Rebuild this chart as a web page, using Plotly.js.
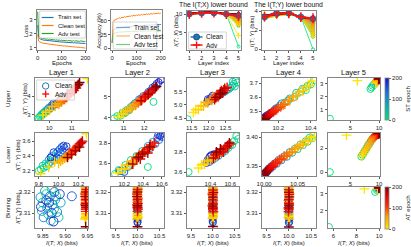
<!DOCTYPE html>
<html><head><meta charset="utf-8">
<script src="https://cdn.plot.ly/plotly-3.0.1.min.js"></script>
<style>html,body{margin:0;padding:0;background:#fff;}#chart{width:411px;height:247px;}</style>
</head><body><div id="chart"></div>
<script>
// ---------------- DATA ----------------
const epochs = [0,8,16,24,32,40,48,56,64,72,80,88,96,104,112,120,128,136,144,152,160,168,176,184,192,200];
const lossEpochs = [0,1,2,4,7,10,14,18,22,26,30,35,40,45,50,55,60,65,70,75,80,85,90,95,100,105,110,115,120,125,130,135,140,145,150,155,160,165,170,175,180,185,190,195,200];
const lossTrain = [2.60,1.95,1.80,1.72,1.66,1.62,1.59,1.57,1.55,1.54,1.53,1.51,1.50,1.50,1.48,1.47,1.47,1.45,1.45,1.44,1.43,1.43,1.42,1.41,1.41,1.40,1.40,1.39,1.38,1.38,1.37,1.37,1.36,1.36,1.35,1.35,1.34,1.34,1.33,1.33,1.32,1.32,1.31,1.31,1.30];
const lossClean = [1.95,1.62,1.52,1.47,1.43,1.39,1.36,1.35,1.32,1.31,1.29,1.28,1.26,1.27,1.24,1.23,1.24,1.21,1.20,1.21,1.18,1.17,1.18,1.15,1.15,1.14,1.12,1.13,1.11,1.10,1.11,1.08,1.08,1.07,1.08,1.05,1.05,1.04,1.05,1.02,1.02,1.01,1.02,0.99,0.98];
const lossAdv = [3.55,2.40,1.95,1.82,1.76,1.72,1.70,1.66,1.68,1.63,1.65,1.60,1.63,1.58,1.61,1.56,1.59,1.55,1.58,1.53,1.56,1.52,1.55,1.51,1.54,1.50,1.53,1.49,1.52,1.48,1.51,1.48,1.50,1.47,1.50,1.46,1.49,1.46,1.48,1.45,1.48,1.45,1.47,1.44,1.46];
const accTrain = [10,25,30,32,33.5,34.5,35.5,36,36.5,37,37.3,37.6,37.9,38.2,38.5,38.8,39,39.2,39.4,39.6,39.8,40,40.2,40.4,40.5,40.7,40.8,41,41.1,41.3,41.4,41.5,41.7,41.8,41.9,42,42.1,42.2,42.3,42.4,42.5,42.6,42.7,42.8,42.9];
const accClean = [10,38,45,48,50,51,52,53,53.5,54,55,54,56,55,57,56,57.5,57,58,57.5,59,58,59.5,58.5,60,59,60.5,59.5,61,60,61.5,60.5,62,61,62,61.5,62.5,61.5,63,62,63,62.5,63.5,62.5,63.5];
const accAdv = [10,20,24,26,27,27.5,28,28.5,28.8,29,29.3,29,29.6,29.4,29.9,29.7,30.1,30,30.3,30.1,30.5,30.3,30.7,30.5,30.8,30.6,31,30.8,31.1,30.9,31.2,31,31.3,31.1,31.4,31.2,31.5,31.3,31.5,31.4,31.6,31.4,31.7,31.5,31.7];

const layerIdx = [1,2,3,4,5];
const itxClean = [10.0,10.25,10.3,10.02,9.6];
const itxAdv = [9.95,10.3,10.35,9.95,9.45];
const ityClean = [3.4,3.78,3.8,3.4,3.22];
const ityAdv = [3.42,3.75,3.78,3.38,3.28];

// Upper row
const up1_cx=[9.52,9.58,9.62,9.68,9.72,9.66,9.80,9.75,9.88,9.84,9.95,9.92,10.02,10.08,9.98,10.15,10.10,10.22,10.30,10.18,10.40,10.35,10.50,10.45,10.60,10.70];
const up1_cy=[2.84,2.90,2.95,2.98,3.05,3.02,3.10,3.12,3.18,3.22,3.25,3.30,3.32,3.40,3.38,3.45,3.50,3.55,3.60,3.62,3.70,3.58,3.80,3.75,3.90,3.98];
const up1_ax=[11.70,9.72,9.85,10.00,10.12,10.25,10.35,10.42,10.50,10.55,10.62,10.68,10.72,10.78,10.85,10.90,10.95,11.00,11.05,11.10,11.15,11.20,11.25,10.80,11.30,11.35];
const up1_ay=[4.95,2.98,3.14,3.24,3.44,3.46,3.60,3.58,3.73,3.70,3.85,3.83,3.96,3.94,4.10,4.06,4.22,4.18,4.34,4.30,4.46,4.44,4.58,4.14,4.64,4.74];
const up2_cx=[10.55,12.45,10.70,10.85,10.95,11.05,11.15,11.25,11.10,11.35,11.45,11.30,11.55,11.65,11.75,11.85,11.95,12.10,12.20,12.30,12.40,12.50,12.60,12.70,12.80,12.88];
const up2_cy=[3.98,4.76,4.09,4.10,4.25,4.22,4.37,4.36,4.28,4.52,4.60,4.42,4.70,4.74,4.88,4.93,5.04,5.10,5.24,5.28,5.44,5.50,5.62,5.70,5.80,5.85];
const up2_ax=[10.75,10.90,11.00,11.10,11.20,11.30,11.40,11.50,11.58,11.65,11.72,11.80,11.88,11.95,12.02,12.10,12.18,12.25,12.32,12.40,12.05,12.48,11.85,12.55,12.20,12.60];
const up2_ay=[4.05,4.19,4.20,4.33,4.33,4.47,4.46,4.60,4.60,4.73,4.72,4.85,4.84,4.97,4.96,5.09,5.08,5.21,5.20,5.33,5.00,5.38,4.82,5.45,5.13,5.50];
const up3_cx=[11.38,12.80,12.85,12.75,12.70,12.78,12.65,12.72,12.60,12.55,12.50,12.45,12.40,12.35,12.30,12.25,12.20,12.15,12.10,12.05,12.00,11.95,12.02,12.08,11.98,12.12];
const up3_cy=[4.46,5.92,5.85,5.80,5.72,5.70,5.65,5.88,5.60,5.58,5.52,5.48,5.45,5.40,5.38,5.32,5.30,5.25,5.22,5.18,5.15,5.10,5.20,5.28,5.22,5.35];
const up3_ax=[11.55,11.62,11.70,11.78,11.85,11.92,11.98,12.05,12.10,12.15,12.20,12.25,12.30,12.35,12.40,12.45,12.50,12.55,12.28,12.38,12.18,12.48,12.32,12.42,12.22,12.36];
const up3_ay=[4.72,4.82,4.83,4.96,4.96,5.09,5.08,5.20,5.17,5.30,5.27,5.40,5.36,5.49,5.45,5.57,5.55,5.66,5.31,5.54,5.20,5.63,5.41,5.46,5.28,5.42];
const up4_cx=[10.37,10.42,10.40,10.38,10.35,10.34,10.31,10.30,10.27,10.26,10.24,10.22,10.21,10.20,10.185,10.18,10.17,10.16,10.15,10.14,10.135,10.13,10.125,10.12,10.115,10.11];
const up4_cy=[3.65,3.72,3.69,3.68,3.66,3.64,3.63,3.60,3.59,3.575,3.56,3.555,3.54,3.525,3.52,3.51,3.50,3.49,3.485,3.475,3.465,3.47,3.455,3.46,3.45,3.445];
const up4_ax=[10.41,10.39,10.37,10.35,10.33,10.31,10.29,10.27,10.26,10.24,10.23,10.215,10.20,10.19,10.18,10.17,10.16,10.15,10.145,10.14,10.135,10.13,10.125,10.12,10.115,10.11];
const up4_ay=[3.715,3.68,3.675,3.645,3.635,3.61,3.60,3.575,3.575,3.55,3.545,3.53,3.525,3.51,3.505,3.495,3.49,3.48,3.48,3.47,3.465,3.455,3.455,3.445,3.445,3.44];
const up5_cx=[1.40,8.50,8.70,8.90,9.10,9.30,9.45,9.55,9.65,9.72,9.78,9.82,9.85,9.88,9.90,9.92,9.93,9.94,9.95,9.96,9.97,9.97,9.98,9.98,9.99,9.99];
const up5_cy=[0.30,2.60,2.72,2.85,2.95,3.05,3.12,3.18,3.22,3.26,3.29,3.31,3.32,3.33,3.34,3.35,3.355,3.36,3.365,3.37,3.375,3.38,3.385,3.39,3.395,3.40];
const up5_ax=[6.20,9.40,9.55,9.65,9.72,9.78,9.82,9.85,9.88,9.90,9.92,9.93,9.94,9.95,9.96,9.96,9.97,9.97,9.98,9.98,9.98,9.99,9.99,9.99,10.00,10.00];
const up5_ay=[3.25,3.05,3.12,3.18,3.22,3.26,3.29,3.31,3.32,3.33,3.34,3.35,3.355,3.36,3.365,3.37,3.375,3.38,3.385,3.39,3.39,3.395,3.40,3.40,3.405,3.41];

// Lower row
const lo1_cx=[9.80,9.82,9.85,9.84,9.88,9.87,9.90,9.92,9.90,9.94,9.96,9.93,9.98,9.97,10.00,9.99,10.02,10.01,10.04,10.03,10.06,10.05,10.08,9.95,10.00,9.92];
const lo1_cy=[3.20,3.22,3.24,3.27,3.26,3.30,3.29,3.32,3.35,3.36,3.34,3.40,3.38,3.43,3.42,3.46,3.45,3.49,3.48,3.52,3.51,3.54,3.53,3.45,3.36,3.38];
const lo1_ax=[10.28,9.82,9.90,9.96,10.00,10.02,10.04,10.06,10.08,10.10,10.11,10.12,10.14,10.15,10.16,10.18,10.19,10.20,10.21,10.22,10.23,10.24,10.13,10.17,10.09,10.21];
const lo1_ay=[3.70,3.16,3.25,3.32,3.30,3.33,3.35,3.37,3.39,3.41,3.43,3.44,3.46,3.48,3.49,3.51,3.53,3.54,3.56,3.57,3.58,3.60,3.42,3.47,3.38,3.52];
const lo2_cx=[10.45,10.10,10.14,10.18,10.21,10.24,10.27,10.30,10.33,10.36,10.39,10.42,10.45,10.48,10.50,10.53,10.55,10.57,10.59,10.60,10.15,10.20,10.25,10.56,10.58,10.61];
const lo2_cy=[3.56,3.49,3.53,3.52,3.58,3.56,3.63,3.61,3.67,3.66,3.72,3.70,3.77,3.75,3.81,3.79,3.85,3.83,3.88,3.86,3.52,3.51,3.57,3.88,3.87,3.90];
const lo2_ax=[10.13,10.17,10.20,10.23,10.26,10.28,10.30,10.32,10.34,10.36,10.38,10.40,10.42,10.44,10.46,10.48,10.50,10.52,10.33,10.37,10.41,10.45,10.29,10.39,10.47,10.35];
const lo2_ay=[3.50,3.54,3.54,3.58,3.58,3.62,3.61,3.65,3.65,3.68,3.68,3.71,3.71,3.74,3.74,3.78,3.77,3.80,3.65,3.64,3.71,3.70,3.59,3.69,3.76,3.66];
const lo3_cx=[10.18,10.66,10.68,10.64,10.62,10.60,10.58,10.56,10.55,10.53,10.52,10.50,10.48,10.46,10.45,10.43,10.42,10.40,10.39,10.38,10.37,10.39,10.41,10.36,10.44,10.40];
const lo3_cy=[3.60,3.96,3.93,3.91,3.87,3.87,3.84,3.84,3.81,3.82,3.79,3.79,3.76,3.77,3.74,3.75,3.72,3.73,3.70,3.71,3.72,3.75,3.77,3.69,3.78,3.76];
const lo3_ax=[10.28,10.31,10.34,10.37,10.40,10.42,10.44,10.46,10.48,10.50,10.52,10.54,10.56,10.58,10.60,10.47,10.51,10.55,10.45,10.49,10.53,10.57,10.43,10.59,10.50,10.46];
const lo3_ay=[3.64,3.67,3.68,3.71,3.72,3.74,3.75,3.77,3.78,3.80,3.81,3.83,3.85,3.87,3.88,3.79,3.82,3.84,3.77,3.78,3.80,3.86,3.74,3.89,3.83,3.80];
const lo4_cx=[10.074,10.072,10.068,10.065,10.062,10.058,10.054,10.050,10.046,10.042,10.038,10.034,10.030,10.026,10.022,10.019,10.016,10.013,10.011,10.009,10.007,10.005,10.004,10.003,10.002,10.001];
const lo4_cy=[3.404,3.398,3.399,3.392,3.393,3.386,3.387,3.379,3.380,3.373,3.374,3.366,3.367,3.360,3.361,3.354,3.355,3.349,3.350,3.345,3.346,3.341,3.342,3.338,3.339,3.337];
const lo4_ax=[10.075,10.070,10.066,10.062,10.058,10.054,10.050,10.046,10.042,10.038,10.034,10.030,10.026,10.023,10.020,10.017,10.014,10.012,10.010,10.008,10.006,10.005,10.004,10.003,10.002,10.000];
const lo4_ay=[3.401,3.399,3.394,3.393,3.388,3.386,3.382,3.380,3.375,3.373,3.369,3.367,3.363,3.361,3.357,3.355,3.352,3.350,3.348,3.346,3.344,3.343,3.341,3.340,3.338,3.335];
const lo5_cx=[1.40,6.90,7.10,7.30,7.55,7.80,8.05,8.30,8.55,8.80,9.00,9.20,9.35,9.48,9.58,9.66,9.73,9.79,9.84,9.88,9.91,9.94,9.96,9.97,9.98,9.99];
const lo5_cy=[0.00,1.30,1.45,1.62,1.80,2.00,2.20,2.40,2.58,2.75,2.88,2.98,3.05,3.10,3.14,3.17,3.19,3.21,3.22,3.23,3.24,3.25,3.25,3.26,3.26,3.27];
const lo5_ax=[4.30,7.00,7.25,7.50,7.75,8.00,8.25,8.50,8.75,8.95,9.15,9.30,9.45,9.55,9.64,9.72,9.78,9.83,9.87,9.90,9.93,9.95,9.97,9.98,9.99,10.00];
const lo5_ay=[3.10,1.35,1.55,1.75,1.95,2.15,2.35,2.55,2.72,2.85,2.95,3.02,3.08,3.12,3.16,3.18,3.20,3.21,3.22,3.23,3.24,3.25,3.25,3.26,3.26,3.27];

// Binning row
const bin1_cx=[9.870,9.858,9.880,9.850,9.875,9.862,9.885,9.848,9.868,9.878,9.855,9.890,9.845,9.872,9.860,9.882,9.852,9.866,9.876,9.915,9.858,9.870,9.888,9.846,9.864,9.874];
const bin1_cy=[3.3215,3.3190,3.3180,3.3150,3.3120,3.3095,3.3080,3.3110,3.3065,3.3165,3.3205,3.3150,3.3175,3.3140,3.3125,3.3105,3.3080,3.3180,3.3200,3.3180,3.3160,3.3100,3.3190,3.3130,3.3150,3.3060];
const bin1_ax=[9.946,9.947,9.946,9.945,9.947,9.946,9.946,9.947,9.945,9.946,9.947,9.946,9.946,9.945,9.947,9.946,9.946,9.947,9.945,9.946,9.946,9.947,9.946,9.945,9.946,9.946];
const bin1_ay=[3.3092,3.3085,3.3078,3.3072,3.3098,3.3222,3.3215,3.3205,3.3195,3.3185,3.3172,3.3160,3.3150,3.3140,3.3128,3.3118,3.3108,3.3212,3.3190,3.3165,3.3145,3.3125,3.3200,3.3178,3.3135,3.3035];
const bin2_cx=[10.00,10.01,9.99,10.00,10.01,10.00,9.99,10.00,10.01,10.00,9.99,10.00,10.00,10.01,10.00,9.99,10.00,10.01,10.00,9.99,10.00,10.00,10.01,10.00,9.99,10.00];
const bin2_cy=[3.3222,3.3218,3.3212,3.3200,3.3190,3.3175,3.3160,3.3150,3.3135,3.3120,3.3110,3.3095,3.3085,3.3070,3.3060,3.3180,3.3140,3.3100,3.3165,3.3125,3.3080,3.3195,3.3155,3.3115,3.3075,3.3055];
const bin2_ax=[10.00,10.00,10.01,9.99,10.00,10.00,10.01,10.00,9.99,10.00,10.01,10.00,10.00,9.99,10.00,10.01,10.00,10.00,9.99,10.00,10.01,10.00,10.00,9.99,10.00,10.00];
const bin2_ay=[3.3092,3.3085,3.3078,3.3072,3.3098,3.3222,3.3215,3.3205,3.3195,3.3185,3.3172,3.3160,3.3150,3.3140,3.3128,3.3118,3.3108,3.3212,3.3190,3.3165,3.3145,3.3125,3.3200,3.3178,3.3135,3.3035];
const bin3_cx=[10.00,9.99,10.00,10.01,10.00,9.99,10.00,10.01,10.00,10.00,9.99,10.01,10.00,10.00,9.99,10.00,10.01,10.00,9.99,10.00,10.00,10.01,10.00,9.99,10.00,10.00];
const bin3_cy=[3.3223,3.3216,3.3208,3.3198,3.3186,3.3172,3.3158,3.3146,3.3132,3.3118,3.3106,3.3094,3.3082,3.3070,3.3062,3.3178,3.3138,3.3102,3.3162,3.3122,3.3086,3.3192,3.3152,3.3112,3.3078,3.3056];
const bin3_ax=[10.00,10.01,10.00,9.99,10.00,10.00,10.01,10.00,9.99,10.00,10.00,10.01,10.00,9.99,10.00,10.00,10.01,10.00,9.99,10.00,10.00,10.00,10.01,10.00,9.99,10.00];
const bin3_ay=[3.3094,3.3086,3.3080,3.3074,3.3100,3.3220,3.3213,3.3204,3.3194,3.3183,3.3170,3.3158,3.3148,3.3138,3.3127,3.3116,3.3106,3.3210,3.3188,3.3163,3.3143,3.3123,3.3198,3.3176,3.3133,3.3036];
const bin4_cx=[10.00,10.00,10.01,9.99,10.00,10.01,10.00,9.99,10.00,10.00,10.01,10.00,9.99,10.00,10.01,10.00,10.00,9.99,10.00,10.01,10.00,10.00,9.99,10.00,10.01,10.00];
const bin4_cy=[3.3222,3.3214,3.3206,3.3196,3.3185,3.3170,3.3156,3.3144,3.3130,3.3117,3.3104,3.3092,3.3081,3.3068,3.3060,3.3176,3.3136,3.3100,3.3160,3.3120,3.3084,3.3190,3.3150,3.3110,3.3076,3.3054];
const bin4_ax=[10.00,10.00,9.99,10.01,10.00,10.00,9.99,10.00,10.01,10.00,10.00,9.99,10.00,10.01,10.00,10.00,9.99,10.00,10.01,10.00,10.00,9.99,10.00,10.01,10.00,10.00];
const bin4_ay=[3.3090,3.3084,3.3077,3.3071,3.3096,3.3221,3.3214,3.3203,3.3193,3.3182,3.3171,3.3159,3.3149,3.3139,3.3126,3.3117,3.3107,3.3211,3.3189,3.3164,3.3144,3.3124,3.3199,3.3177,3.3134,3.3034];
const bin5_cx=[5.60,9.65,9.80,9.88,9.92,9.95,9.96,9.97,9.98,9.98,9.99,9.99,9.99,10.00,10.00,10.00,10.00,10.00,10.00,10.00,10.00,10.00,10.00,10.00,10.00,10.00];
const bin5_cy=[1.06,3.12,3.22,3.28,3.31,3.33,3.34,3.35,3.35,3.36,3.36,3.36,3.37,3.37,3.37,3.37,3.37,3.38,3.38,3.38,3.38,3.38,3.38,3.38,3.38,3.38];
const bin5_ax=[8.70,9.85,9.90,9.93,9.95,9.96,9.97,9.98,9.98,9.99,9.99,9.99,10.00,10.00,10.00,10.00,10.00,10.00,10.00,10.00,10.00,10.00,10.00,10.00,10.00,10.00];
const bin5_ay=[3.30,3.30,3.32,3.33,3.34,3.35,3.35,3.36,3.36,3.36,3.37,3.37,3.37,3.37,3.38,3.38,3.38,3.38,3.38,3.38,3.38,3.38,3.38,3.38,3.38,3.38];

// tick labels
const ticksEpoch=[0,100,200], ticksLoss=[1,2,3], ticksAcc=[0,25,50], ticksItx=[5,10], ticksIty=[0,2,4];
const ticksCbar=[0,100,200];

// ---------------- LAYOUT HELPERS ----------------
const W=411,H=247;
const fx=p=>p/W, fy=p=>1-p/H;
const FONT='Liberation Sans, Arial, sans-serif';
const TF=6;
const ST=[[0,'rgb(0,224,122)'],[0.35,'rgb(0,176,176)'],[0.65,'rgb(26,112,224)'],[1,'rgb(21,21,200)']];
const AT=[[0,'rgb(255,230,0)'],[0.3,'rgb(255,160,0)'],[0.55,'rgb(255,42,0)'],[0.8,'rgb(224,0,0)'],[1,'rgb(128,0,0)']];
function scaleColor(scale,t){
  for(let i=1;i<scale.length;i++){
    if(t<=scale[i][0]){
      const a=scale[i-1],b=scale[i];const f=(t-a[0])/(b[0]-a[0]);
      const ca=a[1].match(/\d+/g).map(Number),cb=b[1].match(/\d+/g).map(Number);
      return 'rgb('+ca.map((v,k)=>Math.round(v+(cb[k]-v)*f)).join(',')+')';
    }
  }
  return scale[scale.length-1][1];
}
const layout={width:W,height:H,margin:{l:0,r:0,t:0,b:0},paper_bgcolor:'#fff',plot_bgcolor:'#fff',
  font:{family:FONT,size:TF,color:'#222'},showlegend:false,annotations:[],shapes:[]};
function setAxes(n,box,xr,yr,xt,xtt,yt,ytt){
  const xa={domain:[fx(box[0]),fx(box[1])],anchor:n===1?'y':'y'+n,range:xr,tickvals:xt,ticktext:xtt,
    showline:true,mirror:true,linecolor:'#858585',linewidth:1,ticks:'outside',ticklen:2,tickwidth:0.8,tickcolor:'#333',
    showgrid:false,zeroline:false,tickfont:{size:TF,color:'#222'},automargin:false};
  const ya=Object.assign({},xa,{domain:[fy(box[3]),fy(box[2])],anchor:n===1?'x':'x'+n,range:yr,tickvals:yt,ticktext:ytt});
  layout[n===1?'xaxis':'xaxis'+n]=xa; layout[n===1?'yaxis':'yaxis'+n]=ya;
}
const ids=n=>n===1?{xaxis:'x',yaxis:'y'}:{xaxis:'x'+n,yaxis:'y'+n};
function txt(t,x,y,size,extra){layout.annotations.push(Object.assign({text:t,x:fx(x),y:fy(y),xref:'paper',yref:'paper',showarrow:false,
  font:{size:size,family:FONT,color:'#111'},xanchor:'center',yanchor:'middle',borderpad:0},extra||{}));}
const S=s=>s.map(String);

// ---------------- AXES ----------------
setAxes(1,[37,87,10,50],[-4,204],[0.84,3.67],ticksEpoch,S(ticksEpoch),ticksLoss,S(ticksLoss));
setAxes(2,[112,163,10,50],[-4,204],[-3.0,69],ticksEpoch,S(ticksEpoch),ticksAcc,S(ticksAcc));
setAxes(3,[188,243,11,50],[0.78,5.22],[0.5,10.8],layerIdx,S(layerIdx),ticksItx,S(ticksItx));
setAxes(4,[264,318,11,50],[0.8,5.22],[-0.08,4.02],layerIdx,S(layerIdx),ticksIty,S(ticksIty));
const cols=[[35,89],[112,165],[188,241],[264,318],[330,383]];
const rows=[[78,120],[133,176],[187,228]];
const xr=[[9.35,11.74],[10.4,12.95],[11.35,12.91],[10.10,10.43],[1.0,10.2],
          [9.76,10.3],[10.06,10.62],[10.16,10.69],[9.997,10.077],[1.0,10.2],
          [9.832,9.952],[9.4,10.6],[9.4,10.6],[9.4,10.6],[5.48,10.09]];
const yr=[[2.72,4.98],[3.9,5.9],[4.43,6.02],[3.436,3.736],[0.2,3.45],
          [3.13,3.71],[3.47,3.9],[3.56,3.99],[3.333,3.407],[-0.33,3.28],
          [3.3029,3.3224],[3.3029,3.3224],[3.3029,3.3224],[3.3029,3.3224],[1.0,3.41]];
const xt=[[[10,11],['10','11']],[[11,12],['11','12']],[[11.5,12,12.5],['11.5','12.0','12.5']],[[10.2,10.4],['10.2','10.4']],[[5,10],['5','10']],
          [[9.8,10,10.2],['9.8','10.0','10.2']],[[10.2,10.4,10.6],['10.2','10.4','10.6']],[[10.4,10.6],['10.4','10.6']],[[10,10.05],['10.00','10.05']],[[5,10],['5','10']],
          [[9.85,9.9,9.95],['9.85','9.90','9.95']],[[9.5,10,10.5],['9.5','10.0','10.5']],[[9.5,10,10.5],['9.5','10.0','10.5']],[[9.5,10,10.5],['9.5','10.0','10.5']],[[6,8,10],['6','8','10']]];
const yt=[[[3,4],['3','4']],[[4,5],['4','5']],[[4.5,5,5.5],['4.5','5.0','5.5']],[[3.5,3.6,3.7],['3.5','3.6','3.7']],[[1,2,3],['1','2','3']],
          [[3.2,3.4,3.6],['3.2','3.4','3.6']],[[3.6,3.8],['3.6','3.8']],[[3.6,3.8],['3.6','3.8']],[[3.35,3.4],['3.35','3.40']],[[0,2],['0','2']],
          [[3.31,3.32],['3.31','3.32']],[[3.31,3.32],['3.31','3.32']],[[3.31,3.32],['3.31','3.32']],[[3.31,3.32],['3.31','3.32']],[[2,3],['2','3']]];
for(let r=0;r<3;r++)for(let c=0;c<5;c++){
  const k=r*5+c, n=5+k;
  setAxes(n,[cols[c][0],cols[c][1],rows[r][0],rows[r][1]],xr[k],yr[k],xt[k][0],xt[k][1],yt[k][0],yt[k][1]);
}

// ---------------- TRACES ----------------
const data=[];
const line=(x,y,n,color)=>Object.assign({type:'scatter',mode:'lines',x,y,line:{color,width:1},hoverinfo:'skip'},ids(n));
data.push(line(lossEpochs,lossTrain,1,'#1f77b4'),line(lossEpochs,lossClean,1,'#ff7f0e'),line(lossEpochs,lossAdv,1,'#2ca02c'));
data.push(line(lossEpochs,accTrain,2,'#1f77b4'),line(lossEpochs,accClean,2,'#ff7f0e'),line(lossEpochs,accAdv,2,'#2ca02c'));

const lowC=[[lo1_cx,lo2_cx,lo3_cx,lo4_cx,lo5_cx],[lo1_cy,lo2_cy,lo3_cy,lo4_cy,lo5_cy]];
const lowA=[[lo1_ax,lo2_ax,lo3_ax,lo4_ax,lo5_ax],[lo1_ay,lo2_ay,lo3_ay,lo4_ay,lo5_ay]];
[3,4].forEach((n,j)=>{
  epochs.forEach((e,i)=>{
    const col=scaleColor(ST,e/200);
    data.push(Object.assign({type:'scatter',mode:'lines+markers',x:layerIdx,y:lowC[j].map(a=>a[i]),
      line:{color:col,width:0.8},marker:{symbol:'circle-open',size:3,color:col,line:{width:0.8}}},ids(n)));
  });
  epochs.forEach((e,i)=>{
    const col=scaleColor(AT,e/200);
    data.push(Object.assign({type:'scatter',mode:'lines+markers',x:layerIdx,y:lowA[j].map(a=>a[i]),
      line:{color:col,width:0.8},marker:{symbol:'cross-thin-open',size:4,color:col,line:{width:1}}},ids(n)));
  });
  data.push(Object.assign({type:'scatter',mode:'lines+markers',x:layerIdx,y:j?ityClean:itxClean,
    line:{color:'#1f77b4',width:1.5},marker:{symbol:'circle',size:6,color:'#1f77b4',line:{color:'#1a4f8a',width:0.6}}},ids(n)));
  data.push(Object.assign({type:'scatter',mode:'lines+markers',x:layerIdx,y:j?ityAdv:itxAdv,
    line:{color:'#ff1010',width:1.5},marker:{symbol:'cross-thin-open',size:7,color:'#ff1010',line:{width:1.5}}},ids(n)));
});

const scat=[[up1_cx,up1_cy,up1_ax,up1_ay],[up2_cx,up2_cy,up2_ax,up2_ay],[up3_cx,up3_cy,up3_ax,up3_ay],[up4_cx,up4_cy,up4_ax,up4_ay],[up5_cx,up5_cy,up5_ax,up5_ay],
  [lo1_cx,lo1_cy,lo1_ax,lo1_ay],[lo2_cx,lo2_cy,lo2_ax,lo2_ay],[lo3_cx,lo3_cy,lo3_ax,lo3_ay],[lo4_cx,lo4_cy,lo4_ax,lo4_ay],[lo5_cx,lo5_cy,lo5_ax,lo5_ay],
  [bin1_cx,bin1_cy,bin1_ax,bin1_ay],[bin2_cx,bin2_cy,bin2_ax,bin2_ay],[bin3_cx,bin3_cy,bin3_ax,bin3_ay],[bin4_cx,bin4_cy,bin4_ax,bin4_ay],[bin5_cx,bin5_cy,bin5_ax,bin5_ay]];
function cbar(title,top){return {x:fx(388),xanchor:'left',xref:'paper',y:fy(top),yanchor:'top',yref:'paper',len:42,lenmode:'pixels',
  thickness:4,thicknessmode:'pixels',xpad:0,ypad:0,outlinewidth:0.8,outlinecolor:'#858585',tickvals:ticksCbar,ticktext:S(ticksCbar),
  ticks:'outside',ticklen:2,tickwidth:0.8,tickfont:{size:TF,family:FONT,color:'#222'},title:{text:title,side:'right',font:{size:TF,family:FONT,color:'#222'}}};}
scat.forEach((s,k)=>{
  const n=5+k;
  data.push(Object.assign({type:'scatter',mode:'markers',x:s[0],y:s[1],
    marker:{symbol:'circle-open',size:k===10?9:7,color:epochs,colorscale:ST,cmin:0,cmax:200,line:{width:0.9},
      showscale:k===4,colorbar:k===4?cbar('ST epoch',78):undefined}},ids(n)));
  data.push(Object.assign({type:'scatter',mode:'markers',x:s[2],y:s[3],
    marker:{symbol:'cross-thin-open',size:7,color:epochs,colorscale:AT,cmin:0,cmax:200,line:{width:1.4},
      showscale:k===14,colorbar:k===14?cbar('AT epoch',187):undefined}},ids(n)));
});

// ---------------- TEXT ----------------
txt('The I(T;X) lower bound',215.5,5,6.8);
txt('The I(T;Y) lower bound',291,5,6.8);
const lnames=['Layer 1','Layer 2','Layer 3','Layer 4','Layer 5'];
cols.forEach((c,i)=>{txt(lnames[i],(c[0]+c[1])/2,72.8,7.5);txt('<i>I</i>(<i>T</i>; <i>X</i>) (bits)',(c[0]+c[1])/2,243,TF);});
txt('Loss',26,30.5,TF,{textangle:-90});
txt('Accuracy (%)',99,30.5,TF,{textangle:-90});
txt('<i>I</i>(<i>T</i>; <i>X</i>) (bits)',177,31,TF,{textangle:-90});
txt('<i>I</i>(<i>T</i>; <i>Y</i>) (bits)',254,31,TF,{textangle:-90});
txt('Epochs',62,63.5,TF);txt('Epochs',137.5,63.5,TF);
txt('Layer index',215.5,63.5,TF);txt('Layer index',291,63.5,TF);
txt('Upper',8,99,TF,{textangle:-90});txt('Lower',8,155,TF,{textangle:-90});txt('Binning',8,208,TF,{textangle:-90});
txt('<i>I</i>(<i>T</i>; <i>Y</i>) (bits)',25,99,TF,{textangle:-90});
txt('<i>I</i>(<i>T</i>; <i>Y</i>) (bits)',18,155,TF,{textangle:-90});
txt('<i>I</i>(<i>T</i>; <i>Y</i>) (bits)',18,208,TF,{textangle:-90});

// ---------------- LEGENDS (drawn) ----------------
const box=(x0,x1,y0,y1)=>layout.shapes.push({type:'rect',xref:'paper',yref:'paper',x0:fx(x0),x1:fx(x1),y0:fy(y1),y1:fy(y0),
  fillcolor:'rgba(255,255,255,0.8)',line:{color:'#cccccc',width:0.8}});
const seg=(x0,x1,y0,y1,color,w)=>layout.shapes.push({type:'line',xref:'paper',yref:'paper',x0:fx(x0),x1:fx(x1),y0:fy(y0),y1:fy(y1),line:{color,width:w}});
const circ=(x,y,r,color,fill)=>layout.shapes.push({type:'circle',xref:'paper',yref:'paper',xsizemode:'pixel',ysizemode:'pixel',
  xanchor:fx(x),yanchor:fy(y),x0:-r,x1:r,y0:-r,y1:r,line:{color,width:1},fillcolor:fill||'rgba(0,0,0,0)'});
const plus=(x,y,r,color)=>{seg(x-r,x+r,y,y,color,1.4);seg(x,x,y-r,y+r,color,1.4);};
const lt=(t,x,y,s)=>txt(t,x,y,s,{xanchor:'left'});
// Loss legend
box(40,86,11,38);
[['Train set','#1f77b4',17.5],['Clean test','#ff7f0e',25.5],['Adv test','#2ca02c',33.5]].forEach(e=>{seg(42,54,e[2],e[2],e[1],1.2);lt(e[0],57,e[2],TF);});
// Accuracy legend
box(114,158,22,49);
[['Train set','rgba(31,119,180,0.6)',27.5],['Clean test','rgba(255,127,14,0.6)',36],['Adv test','rgba(44,160,44,0.6)',44.5]].forEach(e=>{seg(117,131,e[2],e[2],e[1],1.2);lt(e[0],134,e[2],6.5);});
// I(T;X) legend
box(190,228,32,49);
seg(192,204,37,37,'#1f77b4',1.5);circ(198,37,3,'#1a4f8a','#1f77b4');lt('Clean',207,37,6.5);
seg(192,204,45,45,'#ff1010',1.5);plus(198,45,3.5,'#ff1010');lt('Adv',207,45,6.5);
// Layer 1 legend
box(37,75,80,100);
circ(46,86,3.2,'#1f77b4');lt('Clean',54,86,6.5);
plus(46,94,3.5,'#ff1010');lt('Adv',54,94,6.5);

Plotly.newPlot('chart',data,layout,{staticPlot:true,displayModeBar:false});
</script></body></html>
